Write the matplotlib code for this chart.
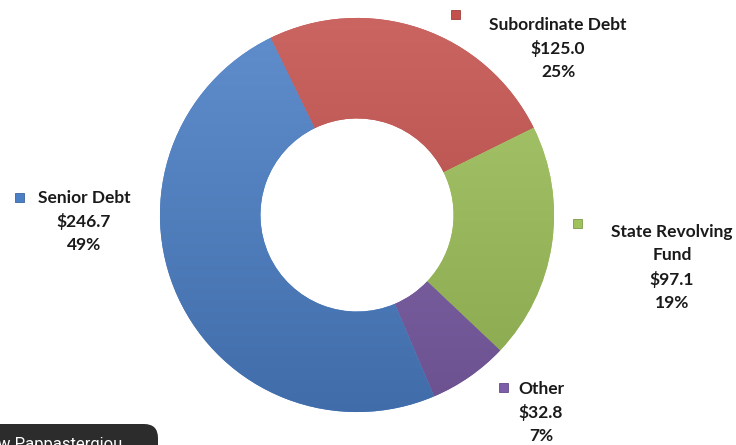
import numpy as np
import matplotlib
matplotlib.use("Agg")
import matplotlib.pyplot as plt
from matplotlib.patches import Rectangle, FancyBboxPatch
from matplotlib.colors import to_rgb

# funding sources, $ millions (drawn clockwise from the top)
sources = ["Subordinate Debt", "State Revolving\nFund", "Other", "Senior Debt"]
amounts = [125.0, 97.1, 32.8, 246.7]
colors = ["#C4504C", "#9FC25A", "#7D5EA8", "#4B7FC6"]

# where each label block sits (pixels from top-left) and its marker
label_xy = [(558, 25), (672, 232), (541, 389), (84, 198)]
marker_xy = [(455, 14), (577, 223), (503, 387), (19, 197)]
label_ha = ["center", "center", "center", "center"]


def shade(c, f):
    r = np.array(to_rgb(c))
    if f >= 0:
        return r + (1 - r) * f
    return r * (1 + f)


def main():
    W, H = 736, 445
    fig = plt.figure(figsize=(W / 100, H / 100), dpi=100)
    fig.patch.set_facecolor("white")

    # pixel-space layer for labels, markers and the caption box
    bg = fig.add_axes([0, 0, 1, 1])
    bg.set_xlim(0, W)
    bg.set_ylim(H, 0)
    bg.axis("off")

    # donut
    cx, cy, rad = 357, 215, 201
    ax = fig.add_axes([(cx - rad) / W, (H - cy - rad) / H, 2 * rad / W, 2 * rad / H])
    wedges, _ = ax.pie(amounts, colors=colors, startangle=116, counterclock=False,
                       radius=1.0, wedgeprops=dict(width=0.51, edgecolor="none"))
    ax.set_xlim(-1.02, 1.02)
    ax.set_ylim(-1.02, 1.02)
    ax.set_aspect("equal")
    ax.axis("off")

    # vertical light-to-dark fill on each slice
    t = np.linspace(0, 1, 256)[:, None]
    for w, c in zip(wedges, colors):
        top, bot = shade(c, 0.12), shade(c, -0.14)
        img = top[None, None, :] * (1 - t[..., None]) + bot[None, None, :] * t[..., None]
        img = np.repeat(img, 2, axis=1)
        im = ax.imshow(img, extent=(-1, 1, -1, 1), origin="upper", zorder=2,
                       interpolation="bilinear")
        im.set_clip_path(w)
        w.set_zorder(1)
    ax.set_xlim(-1.02, 1.02)
    ax.set_ylim(-1.02, 1.02)

    total = sum(amounts)
    font = dict(family=["Lato", "DejaVu Sans"], fontweight="bold", fontsize=12.5,
                color="#1a1a1a")
    for name, amt, c, (lx, ly), (mx, my) in zip(sources, amounts, colors, label_xy, marker_xy):
        pct = round(100 * amt / total)
        bg.add_patch(Rectangle((mx - 4.5, my - 4.5), 9, 9, facecolor=c,
                               edgecolor=shade(c, -0.2), lw=0.6))
        lines = name.split("\n") + [f"${amt:.1f}", f"{pct}%"]
        for i, line in enumerate(lines):
            bg.text(lx, ly + i * 23.5, line, ha="center", va="center", **font)

    # caption tab in the lower-left corner
    bg.add_patch(FancyBboxPatch((-30, 424), 188, 40,
                                boxstyle="round,pad=0,rounding_size=14",
                                facecolor="#2c2c2c", edgecolor="none"))
    bg.text(-2, 437, "w Pappastergiou", color="white", fontsize=12,
            family=["Roboto", "DejaVu Sans"], ha="left", va="top")

    fig.savefig("out.png", dpi=100, facecolor="white")


if __name__ == "__main__":
    main()
